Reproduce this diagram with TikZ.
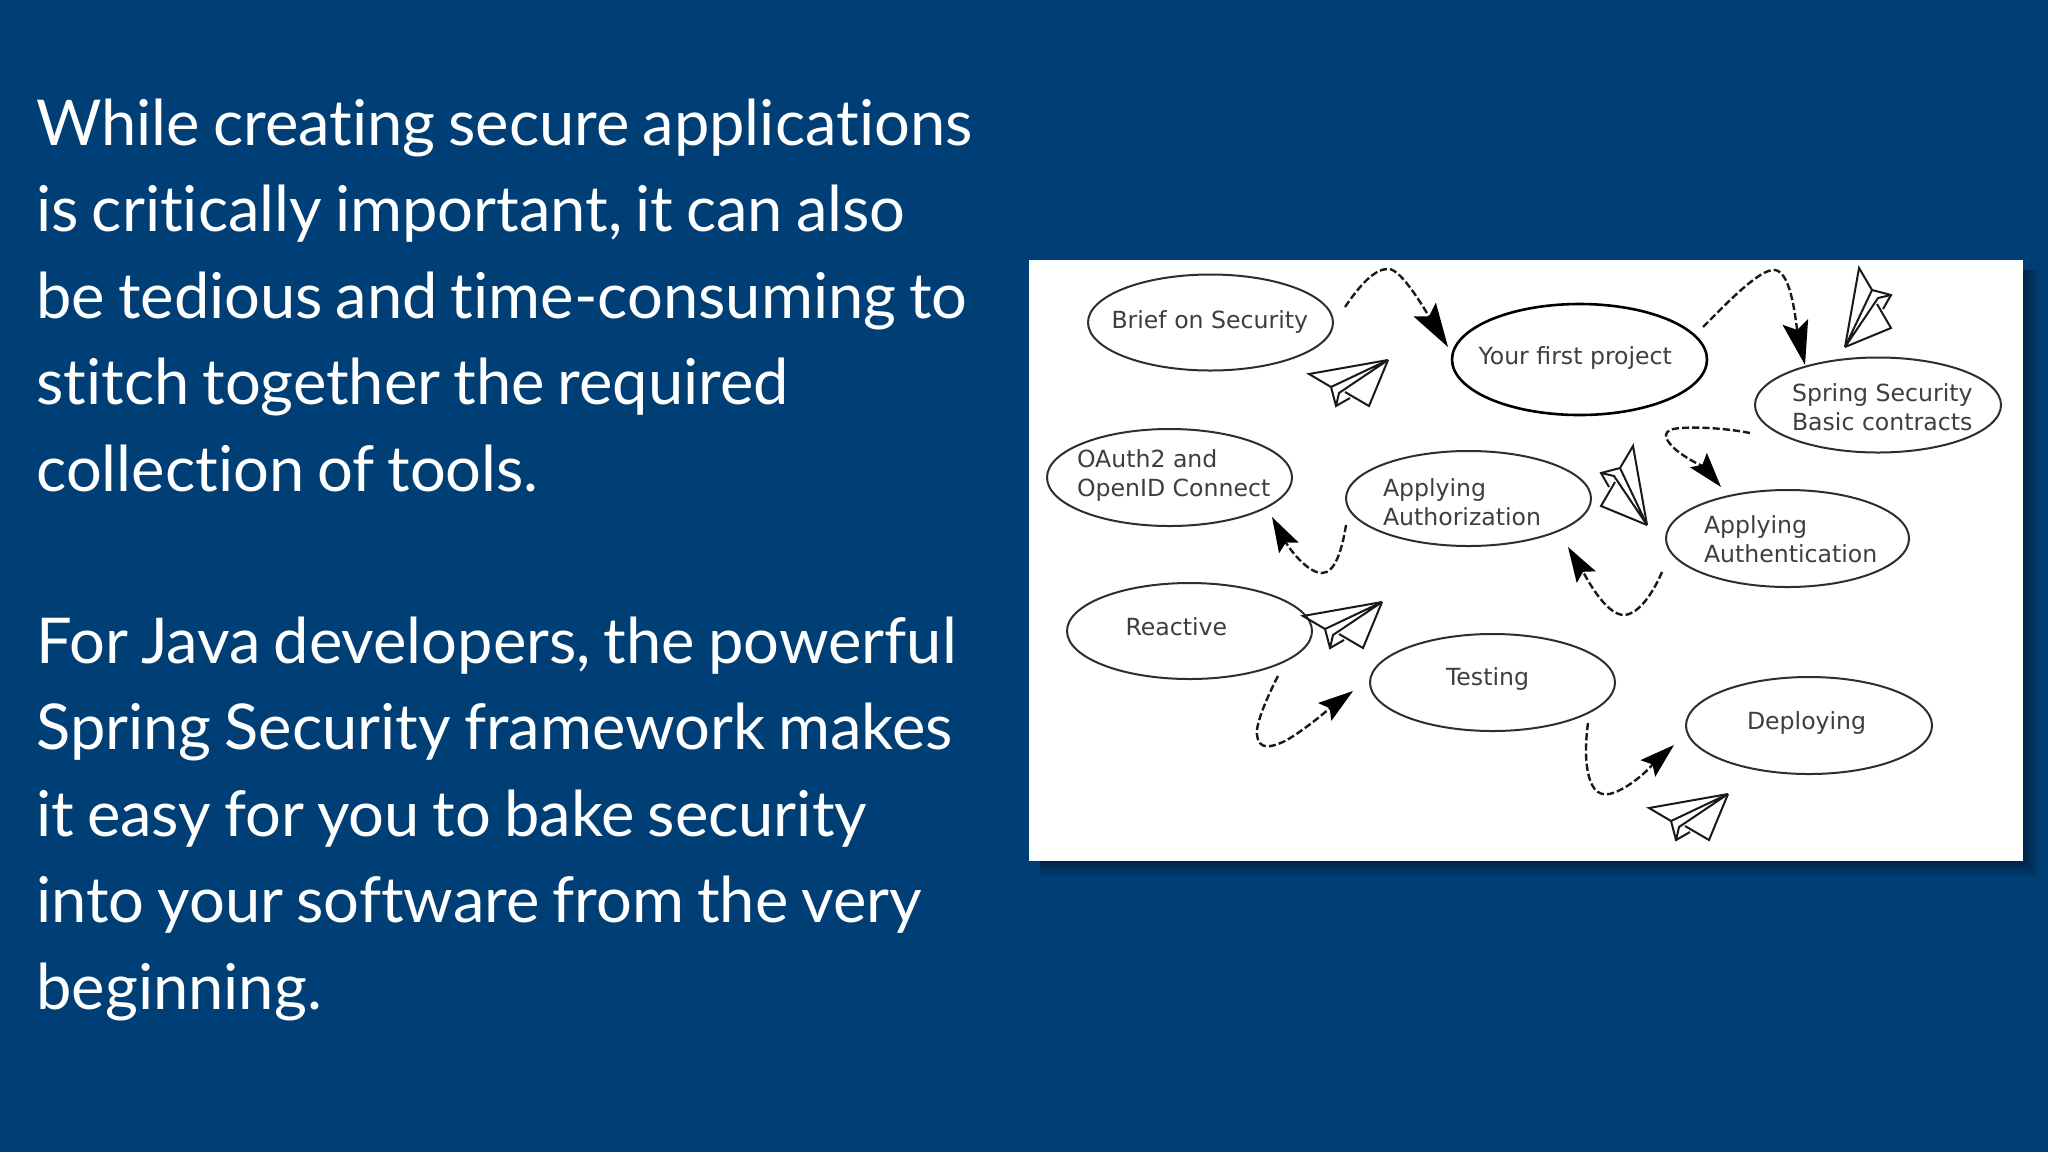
\documentclass[tikz,border=0pt]{standalone}
\usepackage{fontspec}
\setmainfont{Lato}[Ligatures=NoCommon,WordSpace=0.8]
\newfontfamily\diagfont{DejaVu Sans}
\usetikzlibrary{shapes.geometric,arrows.meta}
\definecolor{slidebg}{RGB}{0,63,117}
\definecolor{labelgrey}{RGB}{62,62,62}
\newdimen\upx \upx=.5pt
\newcommand{\bubtext}[3]{\smash{\makebox[0pt][l]{\hspace*{#1\upx}\raisebox{#2\upx}{\vtop{\baselineskip=14.75pt\lineskiplimit=-20pt #3}}}}}
\newcommand{\paperplane}[2]{%
  \begin{scope}[shift={#1},#2]
    \draw[planeline] (0,0) -- (-79,14) -- (-57,27) -- (-52,46) -- (-38,38);
    \draw[planeline] (0,0) -- (-19,46) -- (-43,32);
    \draw[planeline] (-57,27) -- (0,0) -- (-49,33) -- (-52,46);
  \end{scope}}
\tikzset{
  bubble/.style={ellipse,draw=black!82,line width=1pt,inner sep=0pt,font=\diagfont\fontsize{11.8}{14.75}\selectfont,text=labelgrey},
  bodytext/.style={anchor=base west,inner sep=0pt,text=white,align=left,font=\fontsize{31.6}{43.25}\selectfont},
  planeline/.style={draw=black!90,line width=1pt,line join=miter},
  conn/.style={draw=black!90,line width=1.2pt,dash pattern=on 3.6pt off 1.5pt},
  bighead/.style={-{Stealth[length=22pt,width=13pt,inset=4pt,black]}},
  medhead/.style={-{Stealth[length=17.5pt,width=11pt,inset=3pt,black]}}
}
\begin{document}
\begin{tikzpicture}[x=.5pt,y=-.5pt]
\fill[slidebg] (0,0) rectangle (2048,1152);
\useasboundingbox (0,0) rectangle (2048,1152);
% text
\node[bodytext] (para1) at (36,491) {While creating secure applications\\is critically important, it can also\\be tedious and time-consuming to\\stitch together the required\\collection of tools.};
\node[bodytext] (para2) at (36,1009) {For Java developers, the powerful\\Spring Security framework makes\\it easy for you to bake security\\into your software from the very\\beginning.};
% panel with shadow
\foreach \d in {2,4,...,16}{\fill[black,opacity=.05] (1040,270) rectangle (2023+\d,861+\d);}
\fill[white] (1029,260) rectangle (2023,861);
% bubbles
\node[bubble,minimum width=245\upx,minimum height=96\upx] (brief) at (1210.5,322.5) {\bubtext{-99}{-5.5}{\hbox{Brief on Security}}};
\node[bubble,minimum width=255\upx,minimum height=111\upx,line width=1.3pt,draw=black] (first) at (1579.5,359.5) {\bubtext{-101}{-4.5}{\hbox{Your first project}}};
\node[bubble,minimum width=246\upx,minimum height=95\upx] (spring) at (1878,405) {\bubtext{-86}{4}{\hbox{Spring Security}\hbox{Basic contracts}}};
\node[bubble,minimum width=245\upx,minimum height=97\upx] (oauth) at (1169.5,477.5) {\bubtext{-92.5}{10.5}{\hbox{OAuth2 and}\hbox{OpenID Connect}}};
\node[bubble,minimum width=245\upx,minimum height=95\upx] (authz) at (1468.5,498.5) {\bubtext{-85.5}{2.5}{\hbox{Applying}\hbox{Authorization}}};
\node[bubble,minimum width=243\upx,minimum height=97\upx] (authn) at (1787.5,538.5) {\bubtext{-83.5}{5.5}{\hbox{Applying}\hbox{Authentication}}};
\node[bubble,minimum width=245\upx,minimum height=96\upx] (reactive) at (1189.5,631) {\bubtext{-64}{-4}{\hbox{Reactive}}};
\node[bubble,minimum width=245\upx,minimum height=97\upx] (testing) at (1492.5,682.5) {\bubtext{-46.5}{-2.5}{\hbox{Testing}}};
\node[bubble,minimum width=246\upx,minimum height=97\upx] (deploying) at (1809,725.5) {\bubtext{-62}{-3.5}{\hbox{Deploying}}};
% connector ends
\coordinate (briefout) at (1345,307);   \coordinate (firstin) at (1448,347);
\coordinate (firstout) at (1703,327);   \coordinate (springin) at (1805,365);
\coordinate (springout) at (1750,433);  \coordinate (authnin) at (1721,487);
\coordinate (authnout) at (1662,572);   \coordinate (authzin) at (1568,547);
\coordinate (authzout) at (1346,525);   \coordinate (oauthin) at (1272,517);
\coordinate (reactiveout) at (1278,676);\coordinate (testingin) at (1353,691);
\coordinate (testingout) at (1588,723); \coordinate (deployingin) at (1674,745);
% connectors
\draw[conn,bighead] (briefout) .. controls (1360,285) and (1375,268) .. (1389,269) .. controls (1402,270) and (1425,310) .. (firstin);
\draw[conn,bighead] (firstout) .. controls (1725,305) and (1760,268) .. (1775,270) .. controls (1792,272) and (1796,325) .. (springin);
\draw[conn,medhead] (springout) .. controls (1725,428) and (1690,426) .. (1673,429) .. controls (1662,432) and (1665,440) .. (1675,449) .. controls (1685,458) and (1705,468) .. (authnin);
\draw[conn,medhead] (authnout) .. controls (1650,600) and (1635,615) .. (1624,615) .. controls (1605,615) and (1585,575) .. (authzin);
\draw[conn,medhead] (authzout) .. controls (1342,550) and (1335,573) .. (1322,573) .. controls (1308,573) and (1290,550) .. (oauthin);
\draw[conn,medhead] (reactiveout) .. controls (1268,695) and (1255,725) .. (1257,735) .. controls (1259,750) and (1270,748) .. (1285,741) .. controls (1305,730) and (1330,708) .. (testingin);
\draw[conn,medhead] (testingout) .. controls (1585,745) and (1585,765) .. (1590,780) .. controls (1595,795) and (1605,798) .. (1620,790) .. controls (1640,780) and (1655,762) .. (deployingin);
% paper planes
\paperplane{(1388,360)}{}
\paperplane{(1382,602)}{}
\paperplane{(1728,794)}{}
\paperplane{(1845,347)}{x={(0pt,-.5pt)},y={(.5pt,0pt)}}
\paperplane{(1647,525)}{x={(0pt,-.5pt)},y={(-.5pt,0pt)}}
\end{tikzpicture}
\end{document}
